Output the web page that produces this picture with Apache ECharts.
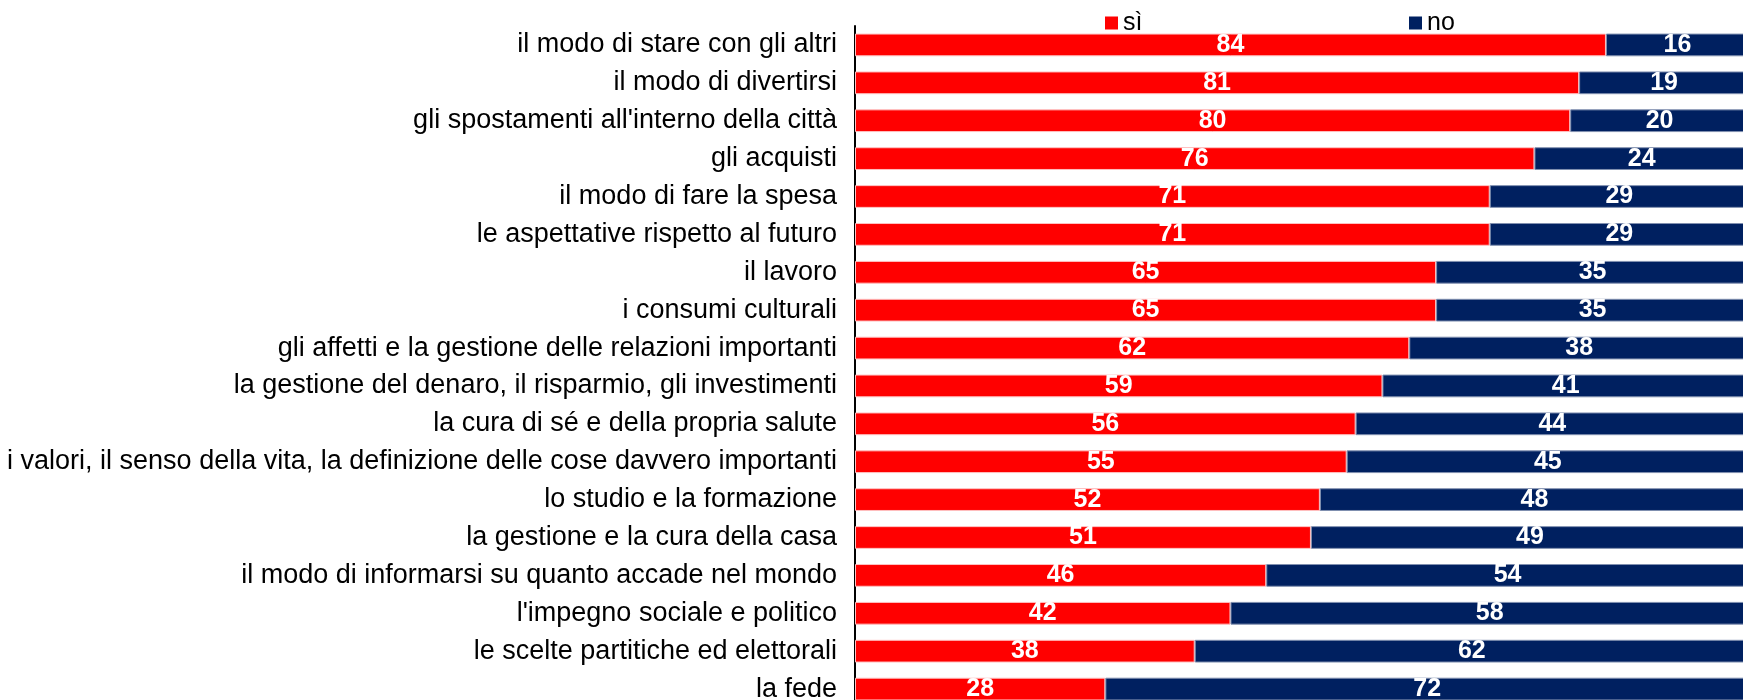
<!DOCTYPE html>
<html>
<head>
<meta charset="utf-8">
<script src="https://cdn.jsdelivr.net/npm/echarts@6/dist/echarts.min.js"></script>
<style>
  html, body { margin: 0; padding: 0; background: #fff; }
  #chart { width: 1743px; height: 700px; }
</style>
</head>
<body>
<div id="chart"></div>
<script>
// categorie (dall'alto verso il basso)
const categories = [
  'il modo di stare con gli altri',
  'il modo di divertirsi',
  "gli spostamenti all'interno della città",
  'gli acquisti',
  'il modo di fare la spesa',
  'le aspettative rispetto al futuro',
  'il lavoro',
  'i consumi culturali',
  'gli affetti e la gestione delle relazioni importanti',
  'la gestione del denaro, il risparmio, gli investimenti',
  'la cura di sé e della propria salute',
  'i valori, il senso della vita, la definizione delle cose davvero importanti',
  'lo studio e la formazione',
  'la gestione e la cura della casa',
  'il modo di informarsi su quanto accade nel mondo',
  "l'impegno sociale e politico",
  'le scelte partitiche ed elettorali',
  'la fede'
]
const siValues = [84, 81, 80, 76, 71, 71, 65, 65, 62, 59, 56, 55, 52, 51, 46, 42, 38, 28]
const noValues = [16, 19, 20, 24, 29, 29, 35, 35, 38, 41, 44, 45, 48, 49, 54, 58, 62, 72]

const chart = echarts.init(document.getElementById('chart'))

const labelStyle = {
  show: true,
  position: 'inside',
  color: '#fff',
  fontWeight: 'bold',
  fontSize: 25,
  fontFamily: 'Liberation Sans'
}

const legendBase = {
  top: 5,
  icon: 'rect', itemWidth: 13, itemHeight: 13, itemGap: 0,
  itemStyle: { borderWidth: 0 },
  textStyle: { fontSize: 25, lineHeight: 26, color: '#000', fontFamily: 'Liberation Sans' }
}

const option = {
  animation: false,
  legend: [
    Object.assign({ data: ['sì'], left: 1100 }, legendBase),
    Object.assign({ data: ['no'], left: 1404 }, legendBase)
  ],
  grid: { left: 855, right: -6, top: 26, height: 682, outerBoundsMode: 'none' },
  xAxis: {
    type: 'value', min: 0, max: 100,
    show: false
  },
  yAxis: {
    type: 'category',
    inverse: true,
    data: categories,
    axisTick: { show: false },
    axisLine: { show: true, lineStyle: { color: '#000', width: 2 } },
    axisLabel: {
      color: '#000', fontSize: 27, margin: 18,
      fontFamily: 'Liberation Sans'
    }
  },
  color: ['#ff0000', '#002060'],
  series: [
    {
      name: 'sì', type: 'bar', stack: 'tot', data: siValues,
      barWidth: '60%',
      itemStyle: { borderColor: '#ffc0c0', borderWidth: 1 },
      label: labelStyle
    },
    {
      name: 'no', type: 'bar', stack: 'tot', data: noValues,
      itemStyle: { borderColor: '#8090b0', borderWidth: 1 },
      label: labelStyle
    }
  ]
}

chart.setOption(option)
</script>
</body>
</html>
